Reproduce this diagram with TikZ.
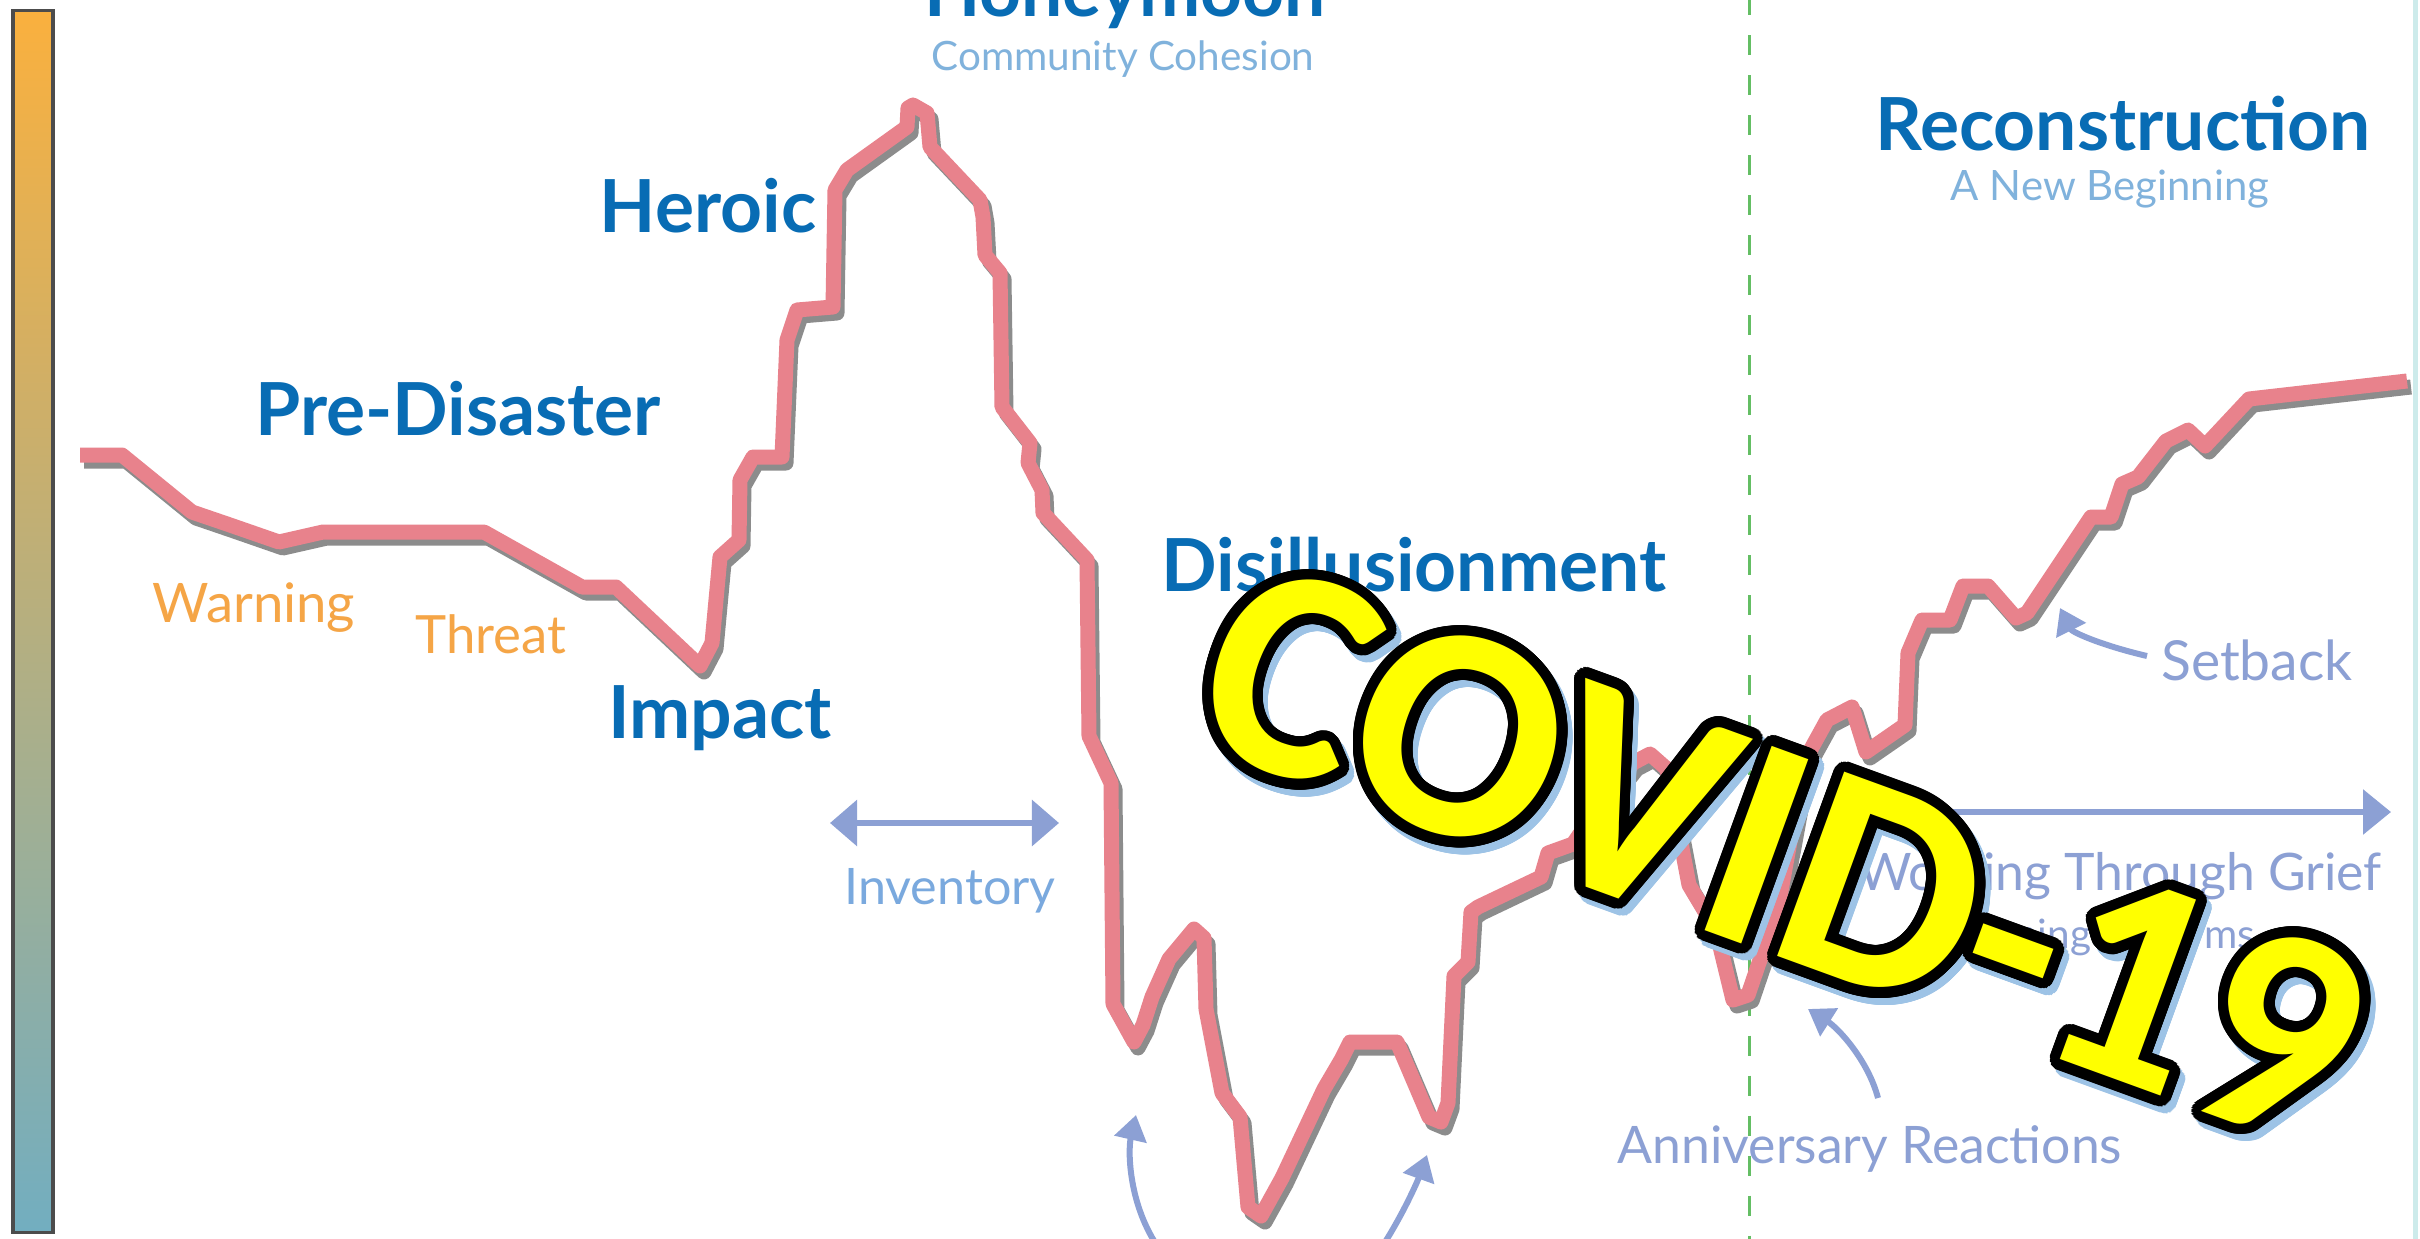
\documentclass[tikz,border=0pt]{standalone}
\usepackage{fontspec}
\setmainfont{Lato}
\newfontfamily\covidfont{Carlito}
\usepackage{contour}
\contourlength{3pt}
\contournumber{48}
\usetikzlibrary{arrows.meta}

\definecolor{titleblue}{RGB}{8,108,180}
\definecolor{softblue}{RGB}{128,178,220}
\definecolor{warnorange}{RGB}{245,165,70}
\definecolor{greyblue}{RGB}{140,160,212}
\definecolor{trendpink}{RGB}{232,130,140}
\definecolor{trendshade}{RGB}{140,140,140}
\definecolor{dashgreen}{RGB}{100,190,100}
\definecolor{barorange}{RGB}{250,176,62}
\definecolor{barteal}{RGB}{114,174,192}
\definecolor{edgeteal}{RGB}{205,235,235}
\definecolor{covidyellow}{RGB}{255,255,0}
\definecolor{covidshadow}{RGB}{157,195,230}

\def\trendline{(80,455) -- (122,455) -- (192,512) -- (230,525) -- (279,542) -- (323,532) -- (484,532) -- (582,587) -- (616,587) -- (700,666) -- (712,643) -- (716,600) -- (720,557) -- (739,540) -- (740,480) -- (753,457) -- (782,457) -- (787,340) -- (797,310) -- (833,307) -- (835,190) -- (847,170) -- (907,127) -- (908,108) -- (913,105) -- (927,113) -- (930,147) -- (980,200) -- (983,217) -- (985,255) -- (1000,273) -- (1002,407) -- (1030,443) -- (1028,463) -- (1042,490) -- (1043,513) -- (1087,560) -- (1089,736) -- (1111,783) -- (1113,1004) -- (1134,1042) -- (1143,1025) -- (1152,997) -- (1169,959) -- (1194,929) -- (1204,938) -- (1206,1009) -- (1222,1093) -- (1240,1117) -- (1248,1207) -- (1261,1216) -- (1282,1178) -- (1324,1089) -- (1341,1060) -- (1350,1042) -- (1397,1042) -- (1429,1117) -- (1441,1122) -- (1448,1103) -- (1454,976) -- (1468,962) -- (1471,912) -- (1478,907) -- (1541,877) -- (1548,853) -- (1573,844) -- (1600,805) -- (1633,763) -- (1650,754) -- (1667,769) -- (1689,885) -- (1716,930) -- (1733,1000) -- (1748,995) -- (1778,907) -- (1805,760) -- (1827,720) -- (1852,707) -- (1866,752) -- (1905,725) -- (1908,653) -- (1922,620) -- (1950,620) -- (1963,586) -- (1988,586) -- (2016,618) -- (2027,613) -- (2091,517) -- (2111,517) -- (2122,484) -- (2138,477) -- (2166,441) -- (2188,430) -- (2205,446) -- (2249,399) -- (2407,381)}

\begin{document}
\begin{tikzpicture}[x=0.01cm, y=-0.01cm,
  phase/.style={font=\bfseries\fontsize{20.8}{24}\selectfont, text=titleblue, anchor=base, inner sep=0pt},
  subphase/.style={font=\fontsize{11.5}{14}\selectfont, text=softblue, anchor=base, inner sep=0pt},
  warnlabel/.style={font=\fontsize{15.5}{18}\selectfont, text=warnorange, anchor=base, inner sep=0pt},
  note/.style={font=\fontsize{14.7}{18}\selectfont, text=greyblue, anchor=base, inner sep=0pt},
  trend/.style={draw=trendpink, line width=0.15cm, line join=round},
  trendshadow/.style={draw=trendshade, line width=0.15cm, line join=round, shift={(4,6)}},
  bigarrow/.style={draw=greyblue, line width=0.06cm, -{Triangle[length=0.28cm, width=0.44cm]}},
  twoarrow/.style={draw=greyblue, line width=0.06cm, {Triangle[length=0.27cm, width=0.45cm]}-{Triangle[length=0.27cm, width=0.45cm]}},
  bendarrow/.style={draw=greyblue, line width=0.06cm, -{Triangle[length=0.25cm, width=0.32cm]}},
  covid/.style={font=\covidfont\bfseries\fontsize{86}{94}\selectfont, rotate=-20, inner sep=0pt}
]
  \clip (0,0) rectangle (2420,1239);
  \fill[white] (0,0) rectangle (2420,1239);

  \shade[top color=barorange, bottom color=barteal] (13,10) rectangle (53,1232);
  \draw[draw=black!70, line width=0.03cm] (13,10) rectangle (53,1232);
  \draw[draw=edgeteal, line width=0.05cm] (2415,0) -- (2415,1239);

  \draw[draw=dashgreen, line width=0.03cm, dash pattern=on 0.2cm off 0.2cm] (1749,-5) -- (1749,1239);

  \draw[trendshadow] \trendline;
  \draw[trend] \trendline;

  \node[phase] (honeymoon) at (1125,16) {Honeymoon};
  \node[subphase] (cohesion) at (1123,70) {Community Cohesion};
  \node[phase] (heroic) at (708,232) {Heroic};
  \node[phase] (predisaster) at (458,435) {Pre-Disaster};
  \node[warnlabel] (warning) at (254,622) {Warning};
  \node[warnlabel, font=\fontsize{15}{18}\selectfont] (threat) at (491,653) {Threat};
  \node[phase] (impact) at (720,738) {Impact};
  \node[phase] (disillusion) at (1414,591) {Disillusionment};
  \node[subphase, font=\fontsize{14.3}{17}\selectfont, text=softblue!95!blue] (inventory) at (950,904) {Inventory};
  \node[phase] (reconstruction) at (2123,150) {Reconstruction};
  \node[subphase, font=\fontsize{11.9}{14}\selectfont] (newbegin) at (2110,200) {A New Beginning};
  \node[note, font=\fontsize{15.7}{18}\selectfont] (setback) at (2257,680) {Setback};
  \node[note] (grief) at (2120,890) {Working Through Grief};
  \node[note, font=\fontsize{11.5}{14}\selectfont] (terms) at (2105,948) {Coming to Terms};
  \node[note] (anniversary) at (1870,1163) {Anniversary Reactions};

  \coordinate (invleft) at (830,823);
  \coordinate (invright) at (1059,823);
  \coordinate (griefstart) at (1890,812);
  \coordinate (griefend) at (2391,812);
  \coordinate (setbackfrom) at (2147,656);
  \coordinate (setbacktip) at (2060,608);
  \coordinate (annifrom) at (1878,1098);
  \coordinate (annitip) at (1808,1009);
  \coordinate (lowleftfrom) at (1160,1250);
  \coordinate (lowlefttip) at (1136,1115);
  \coordinate (lowrightfrom) at (1380,1250);
  \coordinate (lowrighttip) at (1427,1155);

  \draw[twoarrow] (invleft) -- (invright);
  \draw[bigarrow] (griefstart) -- (griefend);
  \draw[bendarrow] (setbackfrom) .. controls (2100,645) and (2072,632) .. (setbacktip);
  \draw[bendarrow] (annifrom) .. controls (1868,1060) and (1838,1028) .. (annitip);
  \draw[bendarrow] (lowleftfrom) .. controls (1128,1205) and (1128,1150) .. (lowlefttip);
  \draw[bendarrow] (lowrightfrom) .. controls (1403,1215) and (1418,1180) .. (lowrighttip);

  \node[covid, text=covidshadow] (covidshade) at (1786,866) {\contour{covidshadow}{COVID-19}};
  \node[covid, text=covidyellow] (covidmark) at (1781,859) {\contour{black}{COVID-19}};
\end{tikzpicture}
\end{document}
